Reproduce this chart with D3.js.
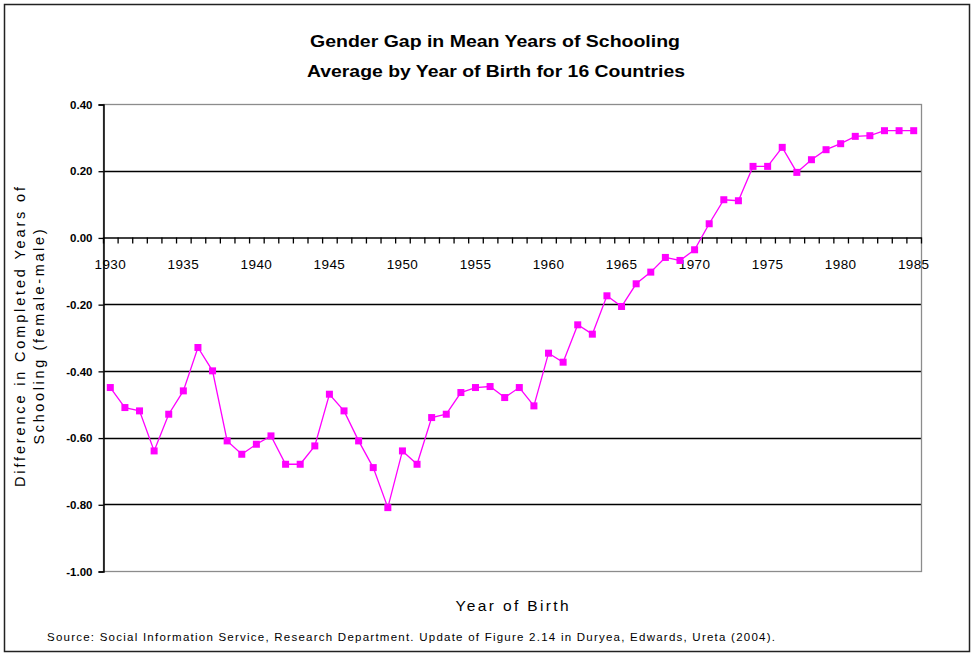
<!DOCTYPE html>
<html>
<head>
<meta charset="utf-8">
<script src="https://cdn.jsdelivr.net/npm/d3@7"></script>
<style>
  body { margin: 0; background: #fff; }
  text { font-family: Arial, "Liberation Sans", sans-serif; fill: #000; }
</style>
</head>
<body>
<svg id="chart"></svg>
<script>
'use strict';

// data
const years = d3.range(1930, 1986);
const gap = [
  -0.45, -0.51, -0.52, -0.64, -0.53, -0.46, -0.33, -0.40, -0.61, -0.65,
  -0.62, -0.595, -0.68, -0.68, -0.625, -0.47, -0.52, -0.61, -0.69, -0.81,
  -0.64, -0.68, -0.54, -0.53, -0.465, -0.45, -0.447, -0.48, -0.45, -0.505,
  -0.347, -0.374, -0.262, -0.29, -0.175, -0.207, -0.139, -0.104, -0.06, -0.069,
  -0.037, 0.041, 0.113, 0.11, 0.213, 0.213, 0.27, 0.195, 0.233, 0.263,
  0.281, 0.303, 0.305, 0.32, 0.32, 0.32
];
const yTicks = [0.4, 0.2, 0, -0.2, -0.4, -0.6, -0.8, -1.0];
const xLabels = [1930, 1935, 1940, 1945, 1950, 1955, 1960, 1965, 1970, 1975, 1980, 1985];

const W = 973, H = 656;
const plot = { left: 103, right: 921, top: 104, bottom: 571 };

const svg = d3.select('#chart')
    .attr('width', W)
    .attr('height', H);

// outer frame
svg.append('rect')
    .attr('x', 4.5).attr('y', 4.5)
    .attr('width', 965).attr('height', 647)
    .attr('fill', 'none')
    .attr('stroke', '#222')
    .attr('stroke-width', 1.5);

const x = d3.scaleBand()
    .domain(years)
    .range([plot.left, plot.right])
    .paddingInner(0).paddingOuter(0);

const y = d3.scaleLinear()
    .domain([-1.0, 0.4])
    .range([plot.bottom, plot.top]);

const cx = d => x(d) + x.bandwidth() / 2;

// gridlines
svg.append('g')
    .selectAll('line')
    .data(yTicks.filter(v => v !== 0.4 && v !== -1.0 && v !== 0))
  .enter().append('line')
    .attr('x1', plot.left).attr('x2', plot.right)
    .attr('y1', d => Math.round(y(d)) + 0.5)
    .attr('y2', d => Math.round(y(d)) + 0.5)
    .attr('stroke', '#000')
    .attr('stroke-width', 1.3);

// plot border (grey)
svg.append('rect')
    .attr('x', plot.left + 0.5).attr('y', plot.top + 0.5)
    .attr('width', plot.right - plot.left).attr('height', plot.bottom - plot.top)
    .attr('fill', 'none')
    .attr('stroke', '#8c8c8c')
    .attr('stroke-width', 1.3);

// y axis
const yAxis = d3.axisLeft(y)
    .tickValues(yTicks)
    .tickSize(5)
    .tickPadding(6)
    .tickFormat(d3.format('.2f'));

const gy = svg.append('g')
    .attr('transform', `translate(${plot.left + 0.5}, 0.5)`)
    .call(yAxis);
gy.select('.domain').attr('stroke', '#000').attr('stroke-width', 1.5);
gy.selectAll('.tick line').attr('stroke', '#000').attr('stroke-width', 1.3);
gy.selectAll('.tick text')
    .style('font-size', '11.5px')
    .style('font-weight', 'bold')
    .text(d => d3.format('.2f')(d).replace('−', '-'));

// x axis on zero line
const y0 = Math.round(y(0)) + 0.5;
const xAxis = d3.axisBottom(x)
    .tickValues(xLabels)
    .tickSize(0)
    .tickPadding(22);

const gx = svg.append('g')
    .attr('transform', `translate(0, ${y0})`)
    .call(xAxis);
gx.select('.domain').attr('stroke', '#000').attr('stroke-width', 1.5);
gx.selectAll('.tick text')
    .style('font-size', '13.5px')
    .style('letter-spacing', '0.4px');

// tick marks at category boundaries
gx.append('g')
    .selectAll('line')
    .data(years.concat([1986]))
  .enter().append('line')
    .attr('x1', d => (d === 1986 ? plot.right : x(d)) + 0.5)
    .attr('x2', d => (d === 1986 ? plot.right : x(d)) + 0.5)
    .attr('y1', 0).attr('y2', 6)
    .attr('stroke', '#000')
    .attr('stroke-width', 1.3);

// series line
const line = d3.line()
    .x((d, i) => cx(years[i]))
    .y(d => y(d));

svg.append('path')
    .datum(gap)
    .attr('d', line)
    .attr('fill', 'none')
    .attr('stroke', '#ff00ff')
    .attr('stroke-width', 1.3);

svg.append('g')
    .attr('fill', '#ff00ff')
    .selectAll('rect')
    .data(gap)
  .enter().append('rect')
    .attr('x', (d, i) => cx(years[i]) - 3.5)
    .attr('y', d => y(d) - 3.5)
    .attr('width', 7)
    .attr('height', 7);

// titles
svg.append('text')
    .attr('x', 495).attr('y', 47)
    .attr('text-anchor', 'middle')
    .attr('textLength', 370).attr('lengthAdjust', 'spacingAndGlyphs')
    .style('font-size', '17px').style('font-weight', 'bold')
    .text('Gender Gap in Mean Years of Schooling');

svg.append('text')
    .attr('x', 496).attr('y', 77)
    .attr('text-anchor', 'middle')
    .attr('textLength', 378).attr('lengthAdjust', 'spacingAndGlyphs')
    .style('font-size', '17px').style('font-weight', 'bold')
    .text('Average by Year of Birth for 16 Countries');

// y axis title
const yt = svg.append('text')
    .attr('transform', 'translate(25, 337) rotate(-90)')
    .attr('text-anchor', 'middle')
    .style('font-size', '14.5px');
yt.append('tspan').attr('x', 0).attr('dy', 0)
    .attr('textLength', 300).attr('lengthAdjust', 'spacing')
    .text('Difference in Completed Years of');
yt.append('tspan').attr('x', 0).attr('dy', 19)
    .attr('textLength', 215).attr('lengthAdjust', 'spacing')
    .text('Schooling (female-male)');

// x axis title
svg.append('text')
    .attr('x', 512).attr('y', 611)
    .attr('text-anchor', 'middle')
    .attr('textLength', 113).attr('lengthAdjust', 'spacing')
    .style('font-size', '15.5px')
    .text('Year of Birth');

// source
svg.append('text')
    .attr('x', 47).attr('y', 641)
    .attr('textLength', 728).attr('lengthAdjust', 'spacing')
    .style('font-size', '11.5px')
    .text('Source:  Social Information Service, Research Department. Update of Figure 2.14 in Duryea, Edwards, Ureta (2004).');
</script>
</body>
</html>
